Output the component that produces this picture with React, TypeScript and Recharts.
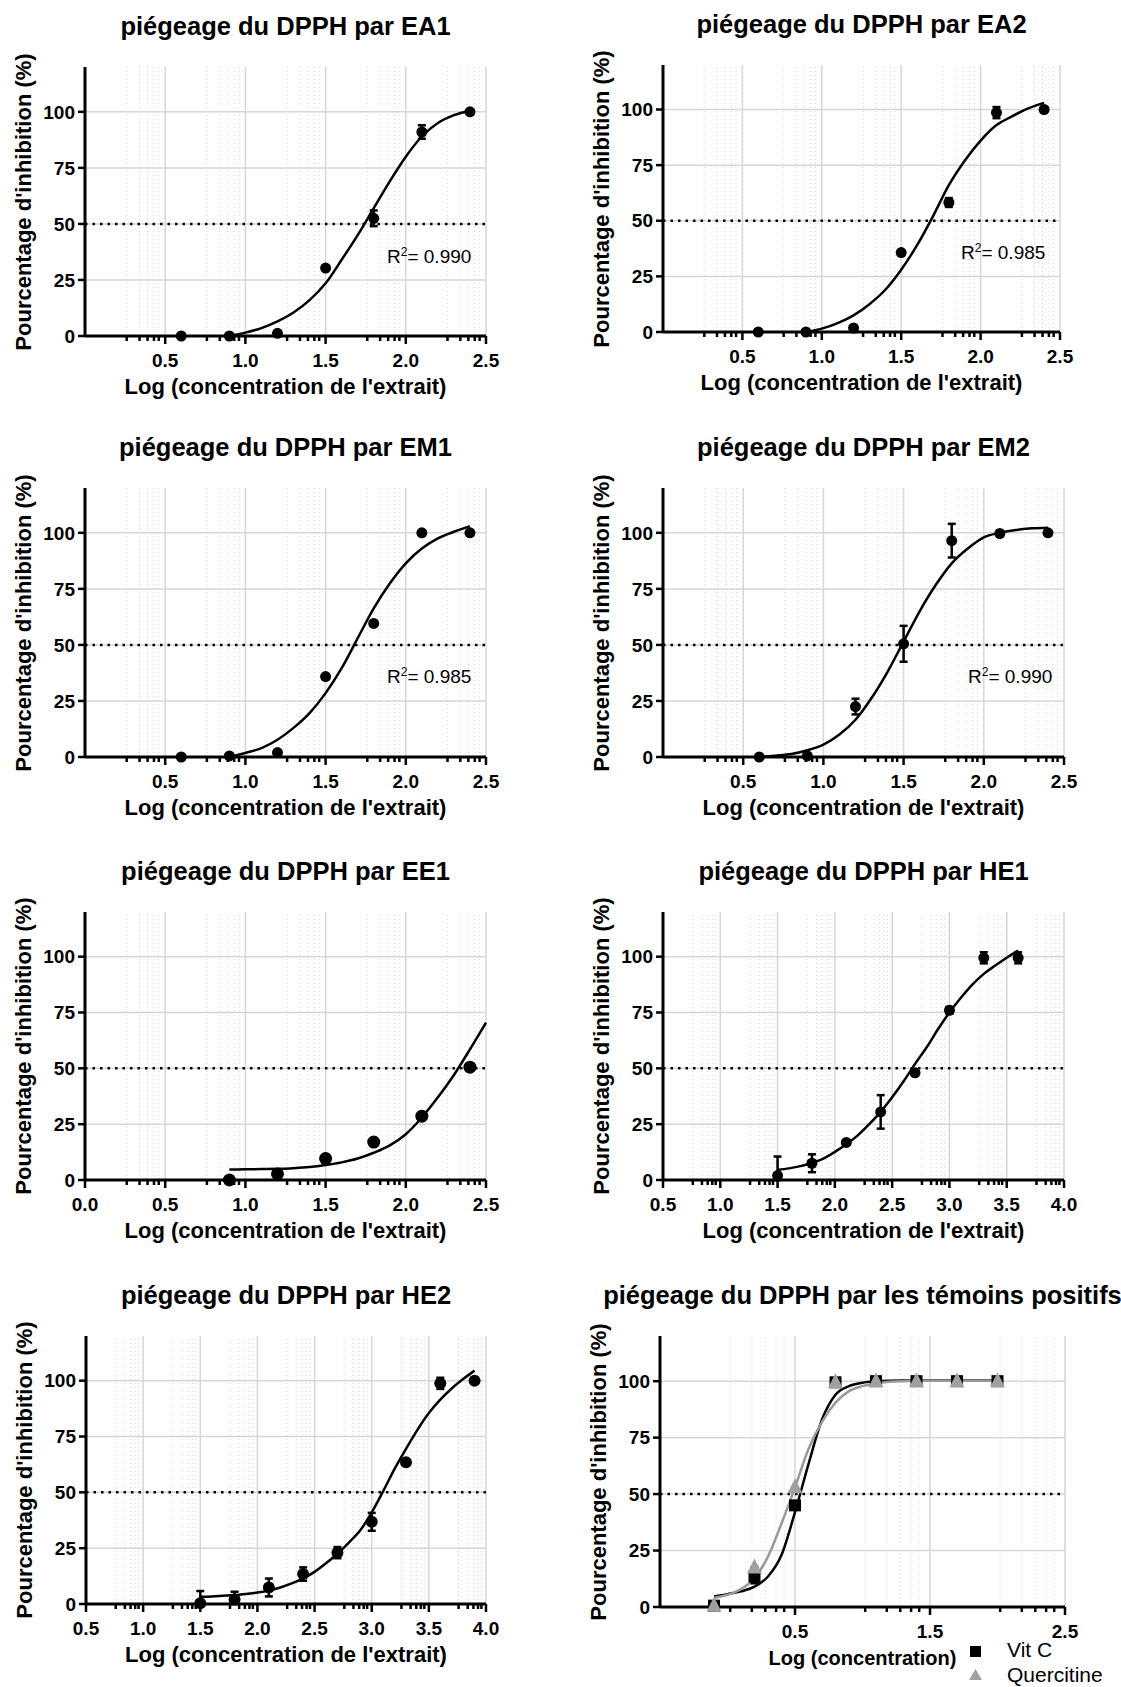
import React from 'react';
import { ComposedChart, Line, Scatter, ErrorBar, XAxis, YAxis, ReferenceLine } from 'recharts';

const FONT = '"Liberation Sans", Arial, Helvetica, sans-serif';

const yTicks = [0, 25, 50, 75, 100];
const hGrid = [25, 50, 75, 100];
// GraphPad style minor ticks inside each major interval
const minorFractions = [0.52, 0.68, 0.78, 0.86, 0.92];

// EA1
const ea1X = [0.6, 0.9, 1.2, 1.5, 1.8, 2.1, 2.4];
const ea1Y = [0, 0, 1.2, 30.3, 52.5, 91, 100];
const ea1Err = [0, 0, 0, 0, 3.5, 3, 0];
const ea1CurveX = [0.9, 1.0, 1.1, 1.2, 1.3, 1.4, 1.5, 1.6, 1.7, 1.8, 1.9, 2.0, 2.1, 2.2, 2.3, 2.4];
const ea1CurveY = [0, 1.5, 3.5, 6.5, 10.5, 16, 23.5, 34, 45, 57, 69, 80, 89, 95, 98.5, 100.5];

// EA2
const ea2X = [0.6, 0.9, 1.2, 1.5, 1.8, 2.1, 2.4];
const ea2Y = [0, 0, 1.8, 35.7, 58.2, 98.6, 100];
const ea2Err = [0, 0, 0, 0, 2, 2.5, 0];
const ea2CurveX = [0.9, 1.0, 1.1, 1.2, 1.3, 1.4, 1.5, 1.6, 1.7, 1.8, 1.9, 2.0, 2.1, 2.2, 2.3, 2.4];
const ea2CurveY = [0, 1.5, 4, 7.5, 12.5, 19, 28, 39, 52, 66, 77, 86, 93, 97, 100.5, 103];

// EM1
const em1X = [0.6, 0.9, 1.2, 1.5, 1.8, 2.1, 2.4];
const em1Y = [0, 0.5, 2, 35.9, 59.6, 100, 100];
const em1Err = [0, 0, 0, 0, 0, 0, 0];
const em1CurveX = [0.9, 1.0, 1.1, 1.2, 1.3, 1.4, 1.5, 1.6, 1.7, 1.8, 1.9, 2.0, 2.1, 2.2, 2.3, 2.4];
const em1CurveY = [0, 1.8, 4, 7.7, 13, 19.6, 28.5, 39.6, 53, 66.3, 77.4, 86.4, 93, 97.5, 100.5, 103];

// EM2
const em2X = [0.6, 0.9, 1.2, 1.5, 1.8, 2.1, 2.4];
const em2Y = [0, 0.5, 22.5, 50.5, 96.5, 99.7, 100];
const em2Err = [0, 0, 3.5, 8, 7.5, 0, 0];
const em2CurveX = [0.6, 0.7, 0.8, 0.9, 1.0, 1.1, 1.2, 1.3, 1.4, 1.5, 1.6, 1.7, 1.8, 1.9, 2.0, 2.1, 2.2, 2.3, 2.4];
const em2CurveY = [0, 0.6, 1.3, 3, 5.5, 10, 16.6, 26.3, 38, 51.5, 65, 76.7, 86.4, 93, 98, 100, 101.3, 102, 102.3];

// EE1
const ee1X = [0.9, 1.2, 1.5, 1.8, 2.1, 2.4];
const ee1Y = [0, 2.7, 9.6, 17, 28.6, 50.5];
const ee1Err = [0, 0, 0, 0, 0, 0];
const ee1CurveX = [0.9, 1.0, 1.1, 1.2, 1.3, 1.4, 1.5, 1.6, 1.7, 1.8, 1.9, 2.0, 2.1, 2.2, 2.3, 2.4, 2.5];
const ee1CurveY = [4.7, 4.8, 4.9, 5.0, 5.3, 5.8, 6.7, 7.9, 9.6, 12.2, 15.5, 20.5, 28, 37, 47, 58.5, 70.5];

// HE1
const he1X = [1.5, 1.8, 2.1, 2.4, 2.7, 3.0, 3.3, 3.6];
const he1Y = [2, 7.5, 16.8, 30.5, 48, 76, 99.5, 99.5];
const he1Err = [8.5, 4, 1, 7.5, 1, 1.5, 2.5, 2.5];
const he1CurveX = [1.5, 1.6, 1.7, 1.8, 1.9, 2.0, 2.1, 2.2, 2.3, 2.4, 2.5, 2.6, 2.7, 2.8, 2.9, 3.0, 3.1, 3.2, 3.3, 3.4, 3.5, 3.6];
const he1CurveY = [4.5, 5.2, 6.2, 7.7, 9.6, 12.6, 16, 20, 25, 30.5, 37, 44.2, 52, 59.3, 67.5, 75, 81.6, 87.5, 92.3, 96, 99.5, 102.7];

// HE2
const he2X = [1.5, 1.8, 2.1, 2.4, 2.7, 3.0, 3.3, 3.6, 3.9];
const he2Y = [0.3, 2, 7.4, 13.4, 23, 36.8, 63.5, 98.8, 100];
const he2Err = [5.5, 3.5, 4, 3, 2.5, 4, 1, 2.5, 0];
const he2CurveX = [1.5, 1.6, 1.7, 1.8, 1.9, 2.0, 2.1, 2.2, 2.3, 2.4, 2.5, 2.6, 2.7, 2.8, 2.9, 3.0, 3.1, 3.2, 3.3, 3.4, 3.5, 3.6, 3.7, 3.8, 3.9];
const he2CurveY = [3.3, 3.4, 3.7, 4.0, 4.5, 5.1, 6, 7.4, 9.2, 11.5, 14.4, 18.2, 22.5, 27.5, 33, 41, 50.5, 60.5, 69.5, 78, 85.5, 91.5, 96.5, 100.7, 104.5];

// témoins positifs
const ctrlX = [-0.1, 0.2, 0.5, 0.8, 1.1, 1.4, 1.7, 2.0];
const vitcY = [0.6, 13.5, 45, 99.5, 100, 100, 100, 100];
const vitcErr = [0, 3, 0, 0, 0, 0, 0, 0];
const querY = [0.5, 17.5, 53, 99.5, 100, 100, 100, 100];
const querErr = [0, 0, 0, 0, 0, 0, 0, 0];
const ctrlCurveX = [-0.1, 0.0, 0.1, 0.2, 0.3, 0.4, 0.5, 0.6, 0.7, 0.8, 0.9, 1.0, 1.1, 1.2, 1.3, 1.4, 1.5, 1.6, 1.7, 1.8, 1.9, 2.0];
const vitcCurveY = [4.7, 5.7, 6.9, 9, 13.5, 23, 42, 63.3, 83, 94, 97.8, 99.3, 99.9, 100.2, 100.3, 100.3, 100.3, 100.3, 100.3, 100.3, 100.3, 100.3];
const querCurveY = [4, 5.4, 7.9, 12.8, 22.3, 37, 53, 70, 82, 90.5, 95.6, 97.8, 99, 99.7, 100, 100.2, 100.2, 100.2, 100.2, 100.2, 100.2, 100.2];

type Pt = { x: number; y: number; err?: number[] };

const pts = (xs: number[], ys: number[], errs: number[]): Pt[] =>
  xs.map((x, i) => ({ x, y: ys[i], err: [Math.min(errs[i], ys[i]), errs[i]] }));
const curve = (xs: number[], ys: number[]): Pt[] => xs.map((x, i) => ({ x, y: ys[i] }));

const markerShape = (kind: string, size: number, color: string) => (props: any) => {
  const { cx, cy } = props;
  if (cx == null || cy == null) return <g />;
  if (kind === 'square') {
    return <rect x={cx - size / 2} y={cy - size / 2} width={size} height={size} fill={color} />;
  }
  if (kind === 'triangle') {
    return (
      <polygon
        points={`${cx},${cy - size * 0.6} ${cx + size / 2},${cy + size * 0.4} ${cx - size / 2},${cy + size * 0.4}`}
        fill={color}
      />
    );
  }
  return <circle cx={cx} cy={cy} r={size / 2} fill={color} />;
};

const near = (list: number[], v: number) => list.some(l => Math.abs(l - v) < 1e-6);

type PointSeries = { data: Pt[]; kind: string; size: number; color: string };
type CurveSeries = { data: Pt[]; color: string };

interface PanelProps {
  title: string;
  box: [number, number, number, number];
  xDomain: [number, number];
  step: number;
  majors: number[];
  labels: number[];
  curves: CurveSeries[];
  points: PointSeries[];
  r2?: { text: string; left: number; top: number };
  xTitle: string;
  xTitleSize?: number;
}

function Panel(p: PanelProps) {
  const [L, T, R, B] = p.box;
  const [a, b] = p.xDomain;
  const minors: number[] = [];
  for (let s = a; s < b - 1e-9; s += p.step) {
    for (const f of minorFractions) minors.push(+(s + f * p.step).toFixed(4));
  }
  const ticks = Array.from(new Set([...p.labels, ...p.majors, ...minors])).sort((u, v) => u - v);
  const cx = (L + R) / 2;
  const cy = (T + B) / 2;

  const XTick = (t: any) => {
    const v = t.payload.value;
    const isLabel = near(p.labels, v);
    const isMajor = isLabel || near(p.majors, v);
    return (
      <g>
        <line x1={t.x} x2={t.x} y1={t.y} y2={t.y + (isMajor ? 8 : 5)} stroke="#000" strokeWidth={2.5} />
        {isLabel && (
          <text x={t.x} y={t.y + 31} textAnchor="middle" fill="#000" style={{ fontFamily: FONT, fontWeight: 700, fontSize: 19 }}>
            {v.toFixed(1)}
          </text>
        )}
      </g>
    );
  };

  return (
    <>
      <div
        style={{
          position: 'absolute', left: cx - 320, width: 640, top: T - 56, height: 30, lineHeight: '30px',
          textAlign: 'center', fontFamily: FONT, fontWeight: 700, fontSize: 25.5, whiteSpace: 'nowrap',
        }}
      >
        {p.title}
      </div>
      <div
        style={{
          position: 'absolute', left: L - 61 - 170, top: cy - 13, width: 340, height: 26, lineHeight: '26px',
          textAlign: 'center', fontFamily: FONT, fontWeight: 700, fontSize: 22, whiteSpace: 'nowrap',
          transform: 'rotate(-90deg)',
        }}
      >
        Pourcentage d'inhibition (%)
      </div>
      <div style={{ position: 'absolute', left: L - 70, top: T - 10 }}>
        <ComposedChart width={R - L + 100} height={B - T + 50} margin={{ top: 10, right: 30, bottom: 0, left: 0 }}>
          <XAxis
            type="number"
            dataKey="x"
            domain={p.xDomain}
            ticks={ticks}
            interval={0}
            height={40}
            tickSize={0}
            tickMargin={0}
            tickLine={false}
            axisLine={{ stroke: '#000', strokeWidth: 3 }}
            tick={XTick}
          />
          <YAxis
            type="number"
            dataKey="y"
            domain={[0, 120]}
            ticks={yTicks}
            interval={0}
            width={70}
            tickSize={7}
            tickMargin={3}
            axisLine={{ stroke: '#000', strokeWidth: 3 }}
            tickLine={{ stroke: '#000', strokeWidth: 2.5 }}
            tick={{ fill: '#000', fontFamily: FONT, fontWeight: 700, fontSize: 19 }}
          />
          {minors.map(v => (
            <ReferenceLine key={`m${v}`} x={v} stroke="#d2d2d2" strokeWidth={1} strokeDasharray="1 3" />
          ))}
          {p.majors.filter(v => v > a + 1e-6).map(v => (
            <ReferenceLine key={`M${v}`} x={v} stroke="#d6d6d6" strokeWidth={1.5} />
          ))}
          {hGrid.map(v => (
            <ReferenceLine key={`h${v}`} y={v} stroke="#d6d6d6" strokeWidth={1.5} />
          ))}
          <ReferenceLine y={50} stroke="#000" strokeWidth={2.5} strokeDasharray="2.5 5" />
          {p.curves.map((c, i) => (
            <Line
              key={`c${i}`}
              data={c.data}
              dataKey="y"
              type="monotone"
              dot={false}
              activeDot={false}
              stroke={c.color}
              strokeWidth={2.5}
              isAnimationActive={false}
            />
          ))}
          {p.points.map((s, i) => (
            <Scatter
              key={`s${i}`}
              data={s.data}
              dataKey="y"
              fill={s.color}
              shape={markerShape(s.kind, s.size, s.color)}
              isAnimationActive={false}
            >
              <ErrorBar dataKey="err" direction="y" width={4} stroke="#000" strokeWidth={2.5} isAnimationActive={false} />
            </Scatter>
          ))}
        </ComposedChart>
      </div>
      <div
        style={{
          position: 'absolute', left: cx - 250, width: 500, top: B + 38, height: 26, lineHeight: '26px',
          textAlign: 'center', fontFamily: FONT, fontWeight: 700, fontSize: p.xTitleSize || 22, whiteSpace: 'nowrap',
        }}
      >
        {p.xTitle}
      </div>
      {p.r2 && (
        <div
          style={{
            position: 'absolute', left: p.r2.left, top: p.r2.top - 12, height: 24, lineHeight: '24px',
            fontFamily: FONT, fontSize: 19, whiteSpace: 'nowrap',
          }}
        >
          R<span style={{ fontSize: 12, verticalAlign: 'super', lineHeight: 0 }}>2</span>= {p.r2.text}
        </div>
      )}
    </>
  );
}

const xt = "Log (concentration de l'extrait)";
const ticks05 = [0.5, 1.0, 1.5, 2.0, 2.5];
const ticksHE = [0.5, 1.0, 1.5, 2.0, 2.5, 3.0, 3.5, 4.0];

export default function App() {
  return (
    <div style={{ position: 'absolute', left: 0, top: 0, width: 1121, height: 1687, background: '#fff', overflow: 'hidden' }}>
      <Panel
        title="piégeage du DPPH par EA1"
        box={[85, 67, 486, 336]}
        xDomain={[0, 2.5]}
        step={0.5}
        majors={ticks05}
        labels={ticks05}
        curves={[{ data: curve(ea1CurveX, ea1CurveY), color: '#000' }]}
        points={[{ data: pts(ea1X, ea1Y, ea1Err), kind: 'circle', size: 11, color: '#000' }]}
        r2={{ text: '0.990', left: 387, top: 257 }}
        xTitle={xt}
      />
      <Panel
        title="piégeage du DPPH par EA2"
        box={[663, 65, 1060, 332]}
        xDomain={[0, 2.5]}
        step={0.5}
        majors={ticks05}
        labels={ticks05}
        curves={[{ data: curve(ea2CurveX, ea2CurveY), color: '#000' }]}
        points={[{ data: pts(ea2X, ea2Y, ea2Err), kind: 'circle', size: 11, color: '#000' }]}
        r2={{ text: '0.985', left: 961, top: 253 }}
        xTitle={xt}
      />
      <Panel
        title="piégeage du DPPH par EM1"
        box={[85, 488, 486, 757]}
        xDomain={[0, 2.5]}
        step={0.5}
        majors={ticks05}
        labels={ticks05}
        curves={[{ data: curve(em1CurveX, em1CurveY), color: '#000' }]}
        points={[{ data: pts(em1X, em1Y, em1Err), kind: 'circle', size: 11, color: '#000' }]}
        r2={{ text: '0.985', left: 387, top: 677 }}
        xTitle={xt}
      />
      <Panel
        title="piégeage du DPPH par EM2"
        box={[663, 488, 1064, 757]}
        xDomain={[0, 2.5]}
        step={0.5}
        majors={ticks05}
        labels={ticks05}
        curves={[{ data: curve(em2CurveX, em2CurveY), color: '#000' }]}
        points={[{ data: pts(em2X, em2Y, em2Err), kind: 'circle', size: 11, color: '#000' }]}
        r2={{ text: '0.990', left: 968, top: 677 }}
        xTitle={xt}
      />
      <Panel
        title="piégeage du DPPH par EE1"
        box={[85, 912, 486, 1180]}
        xDomain={[0, 2.5]}
        step={0.5}
        majors={ticks05}
        labels={[0, ...ticks05]}
        curves={[{ data: curve(ee1CurveX, ee1CurveY), color: '#000' }]}
        points={[{ data: pts(ee1X, ee1Y, ee1Err), kind: 'circle', size: 13, color: '#000' }]}
        xTitle={xt}
      />
      <Panel
        title="piégeage du DPPH par HE1"
        box={[663, 912, 1064, 1180]}
        xDomain={[0.5, 4.0]}
        step={0.5}
        majors={ticksHE}
        labels={ticksHE}
        curves={[{ data: curve(he1CurveX, he1CurveY), color: '#000' }]}
        points={[{ data: pts(he1X, he1Y, he1Err), kind: 'circle', size: 11, color: '#000' }]}
        xTitle={xt}
      />
      <Panel
        title="piégeage du DPPH par HE2"
        box={[86, 1336, 486, 1604]}
        xDomain={[0.5, 4.0]}
        step={0.5}
        majors={ticksHE}
        labels={ticksHE}
        curves={[{ data: curve(he2CurveX, he2CurveY), color: '#000' }]}
        points={[{ data: pts(he2X, he2Y, he2Err), kind: 'circle', size: 12, color: '#000' }]}
        xTitle={xt}
      />
      <Panel
        title="piégeage du DPPH par les témoins positifs"
        box={[660, 1336, 1065, 1607]}
        xDomain={[-0.5, 2.5]}
        step={1}
        majors={[0.5, 1.5, 2.5]}
        labels={[0.5, 1.5, 2.5]}
        curves={[
          { data: curve(ctrlCurveX, vitcCurveY), color: '#000' },
          { data: curve(ctrlCurveX, querCurveY), color: '#999' },
        ]}
        points={[
          { data: pts(ctrlX, vitcY, vitcErr), kind: 'square', size: 12, color: '#000' },
          { data: pts(ctrlX, querY, querErr), kind: 'triangle', size: 15, color: '#a0a0a0' },
        ]}
        xTitle="Log (concentration)"
        xTitleSize={20}
      />
      {/* legend of the last panel */}
      <svg style={{ position: 'absolute', left: 965, top: 1642 }} width={22} height={45}>
        <rect x={5} y={4} width={11} height={11} fill="#000" />
        <polygon points="10.5,27 17,38 4,38" fill="#a0a0a0" />
      </svg>
      <div style={{ position: 'absolute', left: 1007, top: 1638, fontFamily: FONT, fontSize: 21, lineHeight: '24px' }}>Vit C</div>
      <div style={{ position: 'absolute', left: 1007, top: 1663, fontFamily: FONT, fontSize: 21, lineHeight: '24px' }}>Quercitine</div>
    </div>
  );
}
